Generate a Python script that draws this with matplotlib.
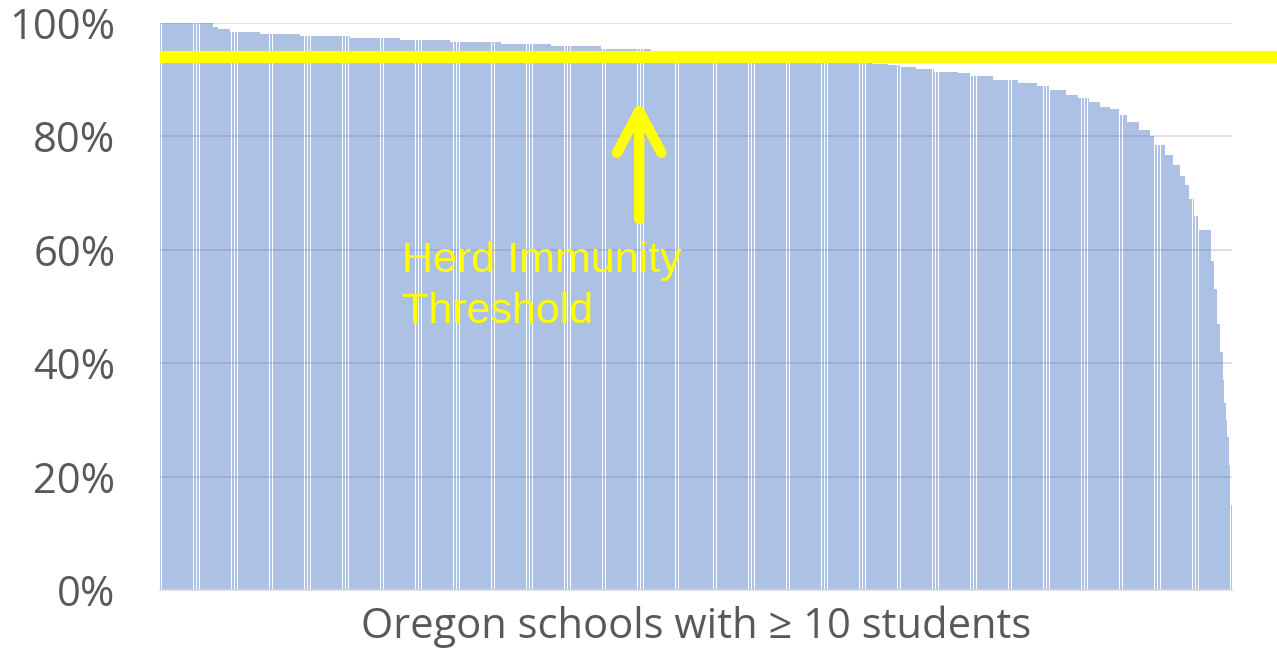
import numpy as np
import matplotlib
matplotlib.use('Agg')
import matplotlib.pyplot as plt

# vaccination rate levels (percent), sorted high to low, and how many schools sit at each level
vax_rate = [100, 99.3, 98.9, 98.5, 98.1, 97.7, 97.3, 97.0, 96.6, 96.3,
            95.9, 95.5, 95.1, 94.6, 94.1, 93.5, 93.0, 92.8, 92.6, 92.3,
            91.8, 91.4, 91.1, 90.7, 89.9, 89.5, 88.9, 88.2, 87.3, 86.7,
            86.1, 85.2, 84.8, 83.8, 82.6, 81.2, 80.0, 78.5, 76.8, 75.0,
            73.0, 71.5, 69.0, 66.0, 63.5, 58, 53, 47, 42, 37,
            33, 30, 27, 22, 15]
n_schools = [35, 3, 8, 20, 26, 33, 33, 33, 33, 33,
             33, 33, 33, 33, 33, 33, 13, 11, 8, 10,
             12, 16, 8, 15, 16, 13, 8, 11, 8, 7,
             7, 7, 6, 5, 8, 7, 3, 7, 5, 5,
             3, 3, 3, 3, 8, 2, 2, 2, 2, 1,
             1, 1, 1, 1, 1]
herd_threshold = 94
yticks = [0, 20, 40, 60, 80, 100]

rates = np.repeat(vax_rate, n_schools)
schools = np.arange(len(rates))

fig = plt.figure(figsize=(12.77, 6.49), dpi=100)
ax = fig.add_axes([160/1277, 1 - 590/649, 1072/1277, 567/649])

ax.bar(schools, rates, width=0.93, color='#4472c4', alpha=0.44, linewidth=0, zorder=2)

ax.set_xlim(-0.5, len(rates) - 0.5)
ax.set_ylim(0, 100)
ax.set_yticks(yticks)
ax.set_yticklabels(['%d%%' % t for t in yticks], fontsize=30, color='#595959',
                   family=['Open Sans', 'DejaVu Sans'])
ax.tick_params(axis='y', length=0, pad=32)
ax.set_xticks([])
ax.grid(axis='y', color='#d9d9d9', linewidth=1.2, zorder=0)
ax.set_axisbelow(True)
for s in ['top', 'right', 'left']:
    ax.spines[s].set_visible(False)
ax.spines['bottom'].set_color('#d9d9d9')
ax.spines['bottom'].set_linewidth(1.2)

# threshold line runs past the plot to the figure edge
ax.axhline(herd_threshold, xmin=0, xmax=1117/1072, color='#ffff00', linewidth=8.8,
           clip_on=False, zorder=5, solid_capstyle='butt')

ax.annotate('', xy=(0.447, 0.864), xytext=(0.447, 0.654), xycoords='axes fraction',
            arrowprops=dict(arrowstyle='->,head_length=3.0,head_width=1.6', color='#ffff00',
                            lw=7.5, capstyle='round', joinstyle='round', shrinkA=0, shrinkB=0),
            zorder=6)
ax.text(0.2257, 0.5608, 'Herd Immunity', transform=ax.transAxes, fontsize=31,
        color='#ffff00', family='Liberation Sans', va='baseline', ha='left', zorder=6)
ax.text(0.2257, 0.4709, 'Threshold', transform=ax.transAxes, fontsize=31,
        color='#ffff00', family='Liberation Sans', va='baseline', ha='left', zorder=6)

fig.text(696/1277, 1 - 638/649, 'Oregon schools with \u2265 10 students', fontsize=30,
         color='#595959', family=['Open Sans', 'DejaVu Sans'], ha='center', va='baseline')

plt.savefig('out.png', dpi=100)
